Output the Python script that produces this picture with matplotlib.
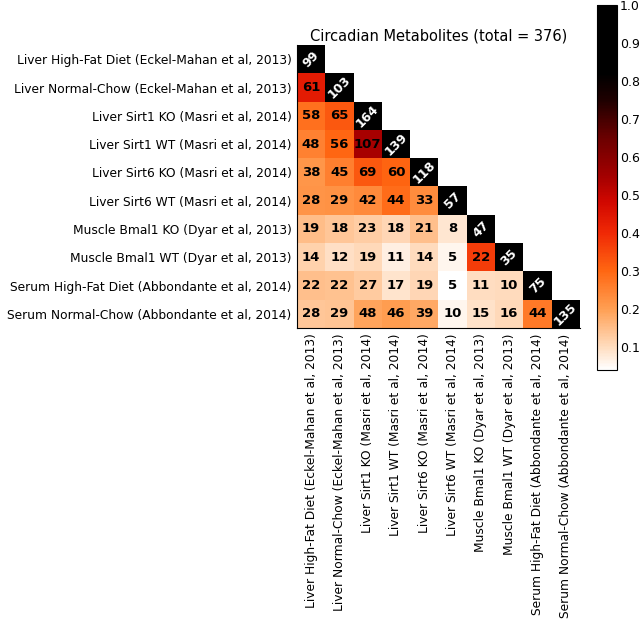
#!/usr/bin/env python3
"""Overlap heatmap of circadian metabolites across datasets."""

import matplotlib
matplotlib.use("Agg")
import matplotlib.pyplot as plt
import numpy as np
from matplotlib.colors import LinearSegmentedColormap

datasets = [
    "Liver High-Fat Diet (Eckel-Mahan et al, 2013)",
    "Liver Normal-Chow (Eckel-Mahan et al, 2013)",
    "Liver Sirt1 KO (Masri et al, 2014)",
    "Liver Sirt1 WT (Masri et al, 2014)",
    "Liver Sirt6 KO (Masri et al, 2014)",
    "Liver Sirt6 WT (Masri et al, 2014)",
    "Muscle Bmal1 KO (Dyar et al, 2013)",
    "Muscle Bmal1 WT (Dyar et al, 2013)",
    "Serum High-Fat Diet (Abbondante et al, 2014)",
    "Serum Normal-Chow (Abbondante et al, 2014)",
]

# shared circadian metabolites, lower triangle (diagonal = dataset size)
overlap_rows = [
    [99],
    [61, 103],
    [58, 65, 164],
    [48, 56, 107, 139],
    [38, 45, 69, 60, 118],
    [28, 29, 42, 44, 33, 57],
    [19, 18, 23, 18, 21, 8, 47],
    [14, 12, 19, 11, 14, 5, 22, 35],
    [22, 22, 27, 17, 19, 5, 11, 10, 75],
    [28, 29, 48, 46, 39, 10, 15, 16, 44, 135],
]
total = 376

n = len(datasets)
counts = np.zeros((n, n))
for i, row in enumerate(overlap_rows):
    counts[i, :len(row)] = row
sizes = np.diag(counts)

# Jaccard index for the colour
jac = np.full((n, n), np.nan)
for i in range(n):
    for j in range(i + 1):
        jac[i, j] = counts[i, j] / (sizes[i] + sizes[j] - counts[i, j])
vmin = np.nanmin(jac)

stops = [
    (vmin, (1.0, 1.0, 1.0)),
    (0.10, (1.0, 0.86, 0.74)),
    (0.20, (1.0, 0.62, 0.32)),
    (0.30, (1.0, 0.40, 0.07)),
    (0.40, (0.94, 0.16, 0.02)),
    (0.48, (0.82, 0.03, 0.0)),
    (0.55, (0.64, 0.0, 0.0)),
    (0.65, (0.42, 0.0, 0.0)),
    (0.75, (0.12, 0.0, 0.0)),
    (0.82, (0.0, 0.0, 0.0)),
    (1.00, (0.0, 0.0, 0.0)),
]
cmap = LinearSegmentedColormap.from_list(
    "heat", [((v - vmin) / (1 - vmin), c) for v, c in stops])
cmap.set_bad("white")

fig = plt.figure(figsize=(6.4, 6.26), dpi=100)
ax = fig.add_axes([0.464, 0.476, 0.442, 0.452])
cax = fig.add_axes([0.933, 0.409, 0.031, 0.583])

im = ax.imshow(np.ma.masked_invalid(jac), cmap=cmap, vmin=vmin, vmax=1.0,
               interpolation="nearest", aspect="auto")

for i in range(n):
    for j in range(i + 1):
        if i == j:
            ax.text(j, i, "%d" % counts[i, j], ha="center", va="center",
                    color="white", fontsize=9, fontweight="bold", rotation=45)
        else:
            ax.text(j, i, "%d" % counts[i, j], ha="center", va="center",
                    color="black", fontsize=9.5, fontweight="bold")

ax.set_xticks(range(n))
ax.set_yticks(range(n))
ax.set_xticklabels(datasets, rotation=90, fontsize=8.8)
ax.set_yticklabels(datasets, fontsize=8.8)
ax.tick_params(length=0, pad=4)
ax.spines["top"].set_visible(False)
ax.spines["right"].set_visible(False)
ax.set_title("Circadian Metabolites (total = %d)" % total, fontsize=10.5, pad=3)

cb = fig.colorbar(im, cax=cax)
cb.set_ticks(np.arange(0.1, 1.01, 0.1))
cb.ax.tick_params(labelsize=9, length=0, pad=2)
cb.ax.yaxis.set_major_formatter(matplotlib.ticker.FormatStrFormatter("%.1f"))

fig.savefig("out.png", dpi=100)
